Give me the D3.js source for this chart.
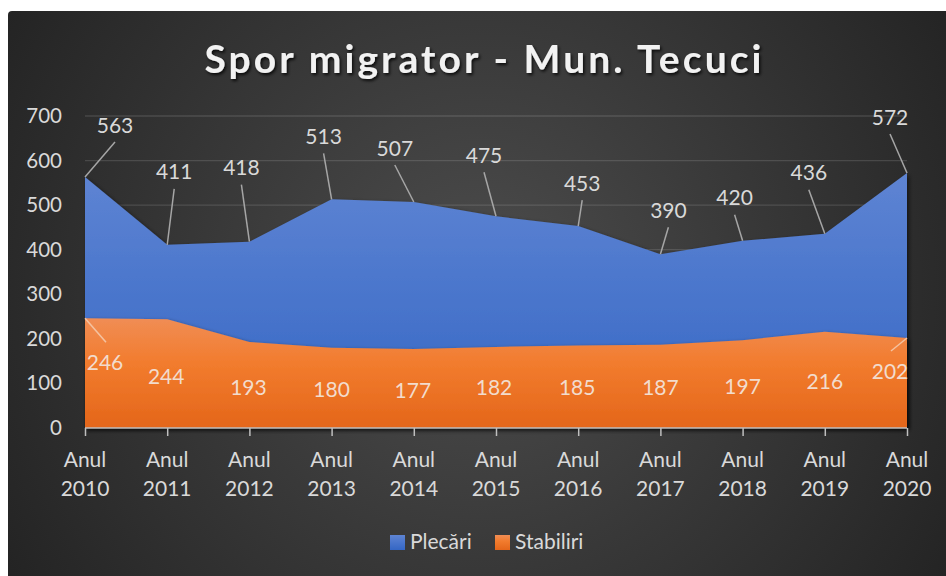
<!DOCTYPE html>
<html>
<head>
<meta charset="utf-8">
<script src="https://cdn.jsdelivr.net/npm/d3@7"></script>
<style>
  body { margin: 0; background: #fff; }
  text { font-family: Lato, "Open Sans", sans-serif; }
</style>
</head>
<body>
<script>
// date
const years = ['2010', '2011', '2012', '2013', '2014', '2015', '2016', '2017', '2018', '2019', '2020'];
const plecari = [563, 411, 418, 513, 507, 475, 453, 390, 420, 436, 572];
const stabiliri = [246, 244, 193, 180, 177, 182, 185, 187, 197, 216, 202];
const yTicks = [0, 100, 200, 300, 400, 500, 600, 700];
const seriesNames = ['Plecări', 'Stabiliri'];

// pozitia etichetelor fata de punct (pixeli)
const offPlecari = [[30, -52], [7, -73], [-8, -74], [-8, -63], [-19, -54], [-12, -61], [4, -43], [8, -44], [-8, -43], [-16, -61], [-17, -56]];
const offStabiliri = [[20, 44], [-1, 57], [-1, 45], [0, 42], [-1, 41], [-2, 41], [-1, 42], [0, 43], [0, 46], [0, 50], [-17, 33]];

let width = 946, height = 576;
let svg = d3.select('body').append('svg')
    .attr('width', width)
    .attr('height', height);

let defs = svg.append('defs');

let bg = defs.append('radialGradient').attr('id', 'bg')
    .attr('gradientUnits', 'userSpaceOnUse')
    .attr('cx', 480).attr('cy', 290).attr('r', 560);
bg.append('stop').attr('offset', '0%').attr('stop-color', '#4d4d4d');
bg.append('stop').attr('offset', '100%').attr('stop-color', '#232323');

let gBlue = defs.append('linearGradient').attr('id', 'gBlue')
    .attr('x1', 0).attr('y1', 0).attr('x2', 0).attr('y2', 1);
gBlue.append('stop').attr('offset', '0%').attr('stop-color', '#5e84d3');
gBlue.append('stop').attr('offset', '100%').attr('stop-color', '#3466c4');

let gOrange = defs.append('linearGradient').attr('id', 'gOrange')
    .attr('x1', 0).attr('y1', 0).attr('x2', 0).attr('y2', 1);
gOrange.append('stop').attr('offset', '0%').attr('stop-color', '#f08d55');
gOrange.append('stop').attr('offset', '40%').attr('stop-color', '#f27c2e');
gOrange.append('stop').attr('offset', '100%').attr('stop-color', '#e4661a');

let shadow = defs.append('filter').attr('id', 'shadow')
    .attr('x', '-10%').attr('y', '-10%').attr('width', '130%').attr('height', '130%');
shadow.append('feDropShadow').attr('dx', 2).attr('dy', 2).attr('stdDeviation', 2)
    .attr('flood-color', '#000').attr('flood-opacity', 0.55);

let tshadow = defs.append('filter').attr('id', 'tshadow')
    .attr('x', '-5%').attr('y', '-20%').attr('width', '110%').attr('height', '150%');
tshadow.append('feDropShadow').attr('dx', 1.5).attr('dy', 2).attr('stdDeviation', 1.5)
    .attr('flood-color', '#000').attr('flood-opacity', 0.8);

// fundal grafic
svg.append('rect')
    .attr('x', 8).attr('y', 11)
    .attr('width', 960).attr('height', 590)
    .attr('rx', 4)
    .attr('fill', 'url(#bg)');

let x = d3.scalePoint().domain(years).range([85, 907]);
let y = d3.scaleLinear().domain([0, 700]).range([428, 116]);

// grila
svg.append('g')
    .selectAll('line')
    .data(yTicks.filter(d => d > 0))
    .enter().append('line')
    .attr('x1', x(years[0])).attr('x2', x(years[years.length - 1]))
    .attr('y1', d => y(d)).attr('y2', d => y(d))
    .attr('stroke', 'rgba(255,255,255,0.13)')
    .attr('stroke-width', 1.3);

// axa Y
let yAxis = svg.append('g')
    .attr('transform', 'translate(' + x(years[0]) + ',0)')
    .call(d3.axisLeft(y).tickValues(yTicks).tickSize(0).tickPadding(23));
yAxis.select('.domain').remove();
yAxis.selectAll('text')
    .attr('fill', '#d9d9d9')
    .style('font-size', '20.5px');

// arii
let area = vals => d3.area()
    .x((d, i) => x(years[i]))
    .y0(y(0))
    .y1(d => y(d))(vals);

svg.append('path')
    .attr('d', area(plecari))
    .attr('fill', 'url(#gBlue)')
    .attr('filter', 'url(#shadow)');

svg.append('path')
    .attr('d', area(stabiliri))
    .attr('fill', 'url(#gOrange)')
    .attr('filter', 'url(#shadow)');

// axa X
let xAxis = svg.append('g')
    .attr('transform', 'translate(0,' + y(0) + ')')
    .call(d3.axisBottom(x).tickSize(8).tickFormat(''));
xAxis.selectAll('line, path').attr('stroke', '#bfbfbf').attr('stroke-width', 1.5);
xAxis.select('.domain').attr('d', 'M' + x(years[0]) + ',0H' + x(years[years.length - 1]));

let xl = svg.append('g').selectAll('text')
    .data(years)
    .enter().append('text')
    .attr('text-anchor', 'middle')
    .attr('fill', '#d9d9d9')
    .style('font-size', '21px');
xl.append('tspan').attr('x', d => x(d)).attr('y', 467).text('Anul');
xl.append('tspan').attr('x', d => x(d)).attr('y', 496).text(d => d);

// etichete date
function labels(vals, offs, below) {
    let g = svg.append('g');
    vals.forEach((v, i) => {
        let px = x(years[i]), py = y(v);
        let lx = px + offs[i][0], ly = py + offs[i][1];
        let showLine = !below || Math.abs(offs[i][0]) > 5;
        if (showLine) {
            g.append('line')
                .attr('x1', px).attr('y1', py)
                .attr('x2', lx + (below ? 1 : 0)).attr('y2', below ? ly - 20 : ly + 17)
                .attr('stroke', below ? '#f4c2a0' : '#a6a6a6')
                .attr('stroke-width', 1.5);
        }
        g.append('text')
            .attr('x', lx).attr('y', ly)
            .attr('dy', '0.36em')
            .attr('text-anchor', 'middle')
            .attr('fill', below ? '#f2dccd' : '#d9d9d9')
            .style('font-size', '21px')
            .text(v);
    });
}
labels(plecari, offPlecari, false);
labels(stabiliri, offStabiliri, true);

// titlu
svg.append('text')
    .attr('x', 483).attr('y', 73)
    .attr('text-anchor', 'middle')
    .attr('textLength', 557)
    .attr('lengthAdjust', 'spacing')
    .attr('fill', '#f2f2f2')
    .attr('filter', 'url(#tshadow)')
    .style('font-size', '39px')
    .style('font-weight', 'bold')
    .text('Spor migrator - Mun. Tecuci');

// legenda
let legend = svg.append('g');
let legX = [390, 495];
seriesNames.forEach((n, i) => {
    legend.append('rect')
        .attr('x', legX[i]).attr('y', 535)
        .attr('width', 15).attr('height', 15)
        .attr('fill', i === 0 ? 'url(#gBlue)' : 'url(#gOrange)');
    legend.append('text')
        .attr('x', legX[i] + 20).attr('y', 549)
        .attr('fill', '#d9d9d9')
        .style('font-size', '21px')
        .text(n);
});
</script>
</body>
</html>
